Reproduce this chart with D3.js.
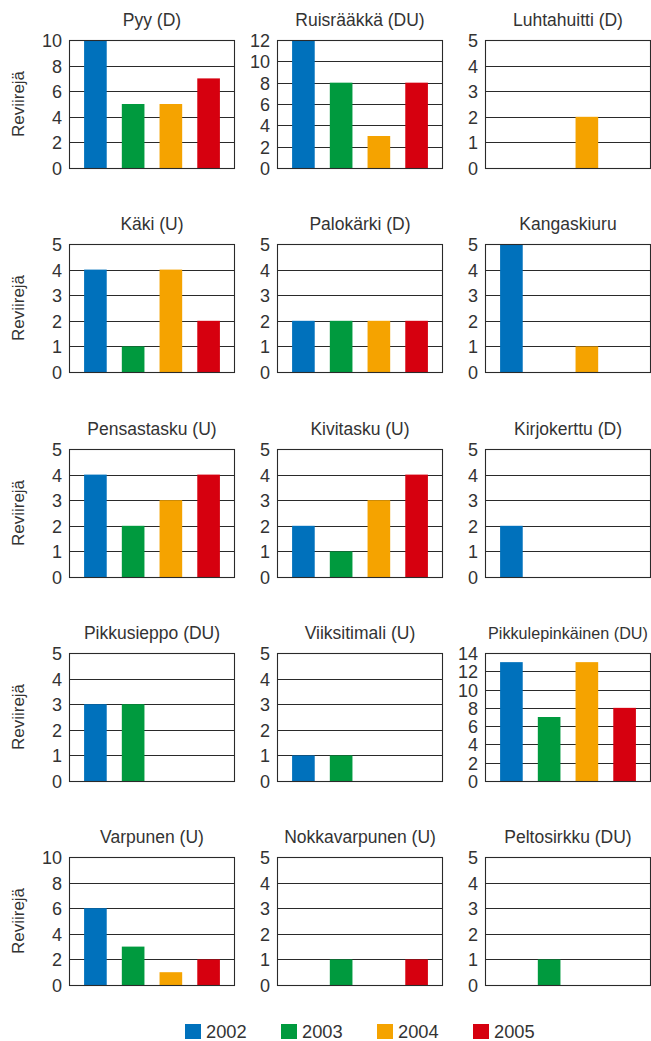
<!DOCTYPE html>
<html><head><meta charset="utf-8">
<script src="https://cdn.jsdelivr.net/npm/d3@7"></script>
<style>body{margin:0;background:#fff}svg{display:block}</style></head>
<body><svg id="c" width="651" height="1041"></svg>
<script>
const years = ["2002","2003","2004","2005"];
const colors = ["#0071bc","#009a3e","#f5a300","#d6000f"];
const species = ["Pyy (D)","Ruisrääkkä (DU)","Luhtahuitti (D)","Käki (U)","Palokärki (D)","Kangaskiuru","Pensastasku (U)","Kivitasku (U)","Kirjokerttu (D)","Pikkusieppo (DU)","Viiksitimali (U)","Pikkulepinkäinen (DU)","Varpunen (U)","Nokkavarpunen (U)","Peltosirkku (DU)"];
const values = [
  [10,5,5,7],[12,8,3,8],[0,0,2,0],
  [4,1,4,2],[2,2,2,2],[5,0,1,0],
  [4,2,3,4],[2,1,3,4],[2,0,0,0],
  [3,3,0,0],[1,1,0,0],[13,7,13,8],
  [6,3,1,2],[0,1,0,1],[0,1,0,0]
];
const yMax = [10,12,5,5,5,5,5,5,5,5,5,14,10,5,5];
const tickStep = [2,2,1,1,1,1,1,1,1,1,1,2,2,1,1];
const yLabel = "Reviirejä";

const svg = d3.select("#c");
const font = "'Liberation Sans', Arial, sans-serif";
const txt = "#333";
const W = 166, H = 128;

species.forEach((name, i) => {
  const r = Math.floor(i / 3), c = i % 3;
  const left = 69 + c * 208, top = Math.round(40 + r * 204.3);
  const g = svg.append("g").attr("transform", `translate(${left},${top})`);
  const x = d3.scaleBand().domain(years).range([0, W]).paddingInner(0.4).paddingOuter(0.4);
  const y = d3.scaleLinear().domain([0, yMax[i]]).range([H, 0]);
  const ticks = d3.range(0, yMax[i] + 0.001, tickStep[i]);

  g.selectAll("line.grid").data(ticks).enter().append("line")
    .attr("x1", 0).attr("x2", W)
    .attr("y1", d => Math.round(y(d)) + 0.5).attr("y2", d => Math.round(y(d)) + 0.5)
    .attr("stroke", "#2a2a2a").attr("stroke-width", 1.1);

  g.selectAll("rect.bar").data(values[i]).enter().append("rect")
    .attr("x", (d, k) => x(years[k])).attr("width", x.bandwidth())
    .attr("y", d => y(d)).attr("height", d => H - y(d))
    .attr("fill", (d, k) => colors[k]);

  g.append("rect").attr("x", 0.5).attr("y", 0.5).attr("width", W - 1).attr("height", H)
    .attr("fill", "none").attr("stroke", "#2a2a2a").attr("stroke-width", 1.1);

  const ax = g.append("g").call(d3.axisLeft(y).tickValues(ticks).tickSize(0).tickPadding(7).tickFormat(d3.format("d")));
  ax.select(".domain").remove();
  ax.selectAll("text").attr("font-family", font).attr("font-size", 18).attr("fill", txt).attr("dy", "0.36em");

  const t = g.append("text").attr("x", W / 2).attr("y", -14).attr("text-anchor", "middle")
    .attr("font-family", font).attr("font-size", 17.5).attr("fill", txt).text(name);
  const len = t.node().getComputedTextLength();
  if (len > 160) t.attr("font-size", 17.5 * 160 / len);

  if (c === 0) {
    g.append("text").attr("transform", `translate(${24 - left},${H / 2}) rotate(-90)`)
      .attr("text-anchor", "middle").attr("font-family", font).attr("font-size", 17)
      .attr("fill", txt).text(yLabel);
  }
});

const lg = svg.append("g").attr("transform", "translate(185,1024)");
years.forEach((yr, k) => {
  lg.append("rect").attr("x", k * 96).attr("y", 0).attr("width", 16).attr("height", 15).attr("fill", colors[k]);
  lg.append("text").attr("x", k * 96 + 21).attr("y", 14).attr("font-family", font)
    .attr("font-size", 18.3).attr("fill", txt).text(yr);
});
</script></body></html>
